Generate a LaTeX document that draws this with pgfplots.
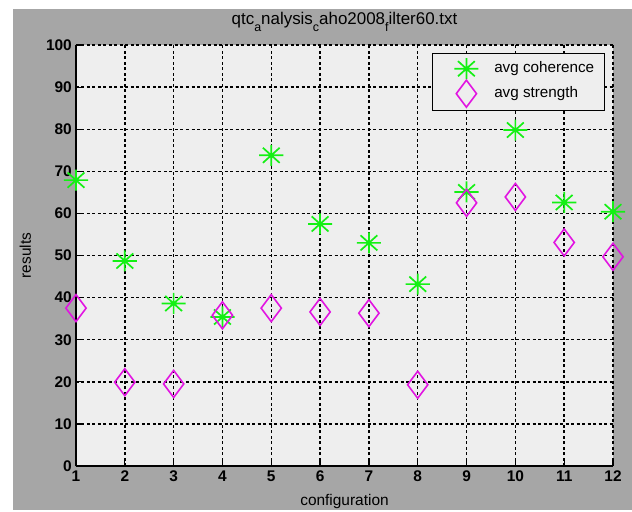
\documentclass[border=0pt]{standalone}
\usepackage{fontspec}
\setmainfont{Liberation Sans}
\usepackage{pgfplots}
\pgfplotsset{compat=1.18}
\definecolor{figbg}{RGB}{166,166,166}
\definecolor{plotbg}{RGB}{238,238,238}
\definecolor{mgreen}{RGB}{20,240,20}
\definecolor{mmag}{RGB}{225,20,225}
\pgfdeclareplotmark{mstar}{%
  \pgfpathmoveto{\pgfqpoint{-1.15\pgfplotmarksize}{0pt}}%
  \pgfpathlineto{\pgfqpoint{1.15\pgfplotmarksize}{0pt}}%
  \pgfpathmoveto{\pgfqpoint{0pt}{-\pgfplotmarksize}}%
  \pgfpathlineto{\pgfqpoint{0pt}{\pgfplotmarksize}}%
  \pgfpathmoveto{\pgfqpoint{-0.8\pgfplotmarksize}{-0.72\pgfplotmarksize}}%
  \pgfpathlineto{\pgfqpoint{0.8\pgfplotmarksize}{0.72\pgfplotmarksize}}%
  \pgfpathmoveto{\pgfqpoint{-0.8\pgfplotmarksize}{0.72\pgfplotmarksize}}%
  \pgfpathlineto{\pgfqpoint{0.8\pgfplotmarksize}{-0.72\pgfplotmarksize}}%
  \pgfusepathqstroke}
\newcommand{\sub}[1]{\raisebox{-0.42em}{\fontsize{12.5}{13}\selectfont #1}}
\begin{document}
\begin{tikzpicture}
\fill[white] (-76bp,-44bp) rectangle (556bp,466bp);
\fill[figbg] (-63bp,-44bp) rectangle (556bp,457bp);
\begin{axis}[
  at={(0,0)}, anchor=south west,
  scale only axis, width=537bp, height=421bp,
  xmin=1, xmax=12, ymin=0, ymax=100,
  xtick={1,...,12}, ytick={0,10,...,100},
  axis background/.style={fill=plotbg},
  axis lines*=left,
  axis line style={black, line width=1.6bp},
  tick align=inside, major tick length=5bp,
  tick style={black, line width=1.2bp},
  grid=major,
  major grid style={black, line width=1.4bp, dash pattern=on 3bp off 2.5bp},
  /pgf/number format/assume math mode=true,
  tick label style={font=\fontsize{15.5}{17}\bfseries\selectfont, inner sep=2bp},
  xticklabel style={yshift=-3bp},
  yticklabel style={xshift=-2bp},
  title={qtc\sub{a}nalysis\sub{c}aho2008\sub{f}ilter60.txt},
  title style={at={(axis description cs:0.5,1)}, anchor=base, yshift=15bp, font=\fontsize{17}{19}\selectfont},
  xlabel={configuration},
  xlabel style={at={(axis description cs:0.5,0)}, anchor=base, yshift=-39bp, font=\fontsize{15.5}{17}\selectfont},
  ylabel={results},
  ylabel style={at={(axis description cs:-0.0838,0.5)}, anchor=base, font=\fontsize{15.5}{17}\selectfont},
  clip=false,
  legend cell align=left,
  legend style={at={(rel axis cs:0.985,0.981)}, anchor=north east,
    draw=black, line width=1.4bp, fill=plotbg,
    font=\fontsize{15.3}{17}\selectfont,
    inner xsep=8bp, inner ysep=3.5bp, row sep=0bp,
    nodes={inner xsep=2bp, inner ysep=4bp, text height=11bp, text depth=4bp},
    /tikz/every even column/.append style={column sep=3bp}},
  legend image code/.code={\path (0bp,0bp) (50bp,0bp); \draw[mark repeat=2,mark phase=2,#1] plot coordinates {(0bp,0bp) (25bp,0bp) (50bp,0bp)};},
]
\addplot[only marks, mark=mstar, mark size=10.5bp, mgreen, line width=1.7bp] coordinates {
(1,67.9) (2,48.7) (3,38.6) (4,35.4) (5,73.8) (6,57.5) (7,53.0) (8,43.2) (9,65.1) (10,79.8) (11,62.6) (12,60.4)};
\addlegendentry{avg coherence}
\addplot[only marks, mark=diamond, mark size=13.5bp, mmag, line width=1.6bp] coordinates {
(1,37.5) (2,19.9) (3,19.5) (4,35.8) (5,37.5) (6,36.6) (7,36.3) (8,19.3) (9,62.5) (10,63.9) (11,53.1) (12,49.7)};
\addlegendentry{avg strength}
\end{axis}
\end{tikzpicture}
\end{document}
